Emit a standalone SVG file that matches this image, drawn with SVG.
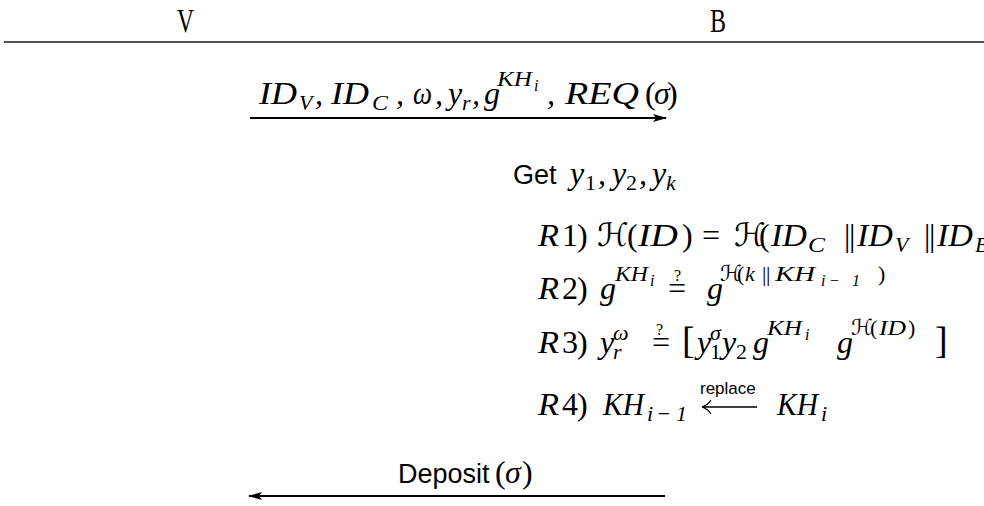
<svg xmlns="http://www.w3.org/2000/svg" width="984" height="506" viewBox="0 0 984 506">
<style>
.m{font-family:"Liberation Serif",serif;font-style:italic;font-size:32px;fill:#000}
.u{font-style:normal}
.s{font-size:22px}
.ss{font-size:16px}
.h{font-family:"DejaVu Sans","DejaVu Serif",serif;font-style:normal}
.q{font-family:"Liberation Serif",serif;font-size:16px;fill:#000}
.sf{font-family:"Liberation Sans","DejaVu Sans",sans-serif;font-size:27px;fill:#000}
.hd{font-family:"Liberation Serif",serif;font-size:33px;fill:#000}
.br{font-size:38px;font-style:normal}
.ln{stroke:#000;stroke-width:2;fill:none}
</style>
<defs>
<marker id="ah" viewBox="0 0 14 8" refX="13" refY="4" markerWidth="14" markerHeight="8" markerUnits="userSpaceOnUse" orient="auto">
<path d="M0,0 L14,4 L0,8 L3,4 Z" fill="#000"/>
</marker>
</defs>
<rect width="984" height="506" fill="#fff"/>
<g id="V"><text class="hd" x="177" y="32" textLength="17" lengthAdjust="spacingAndGlyphs">V</text></g>
<g id="B"><text class="hd" x="710" y="32" textLength="16" lengthAdjust="spacingAndGlyphs">B</text></g>
<line x1="4" y1="42" x2="984" y2="42" stroke="#555" stroke-width="2"/>
<g id="connectors">
<line class="ln" x1="250" y1="118" x2="666" y2="118" marker-end="url(#ah)"/>
<line class="ln" x1="665" y1="496" x2="249" y2="496" marker-end="url(#ah)"/>
</g>
<g id="msg1"><text class="m" y="104"><tspan x="259" textLength="38" lengthAdjust="spacingAndGlyphs">ID</tspan><tspan class="s" x="299" dy="6">V</tspan><tspan x="315" dy="-6">,</tspan><tspan x="331" textLength="38" lengthAdjust="spacingAndGlyphs">ID</tspan><tspan class="s" x="372" dy="6" textLength="16" lengthAdjust="spacingAndGlyphs">C</tspan><tspan x="396" dy="-6">,</tspan><tspan x="413" textLength="19" lengthAdjust="spacingAndGlyphs">ω</tspan><tspan x="435">,</tspan><tspan x="448">y</tspan><tspan class="s" x="462" dy="6">r</tspan><tspan x="472" dy="-6">,</tspan><tspan x="484">g</tspan><tspan class="s" x="497" dy="-18" textLength="35" lengthAdjust="spacingAndGlyphs">KH</tspan><tspan class="ss" x="534" dy="5">i</tspan><tspan x="547" dy="13">,</tspan><tspan x="565" textLength="74" lengthAdjust="spacingAndGlyphs">REQ</tspan><tspan class="u" x="645">(</tspan><tspan x="654">σ</tspan><tspan class="u" x="667">)</tspan></text></g>
<g id="computation">
<text class="sf" x="513" y="184">Get</text>
<text class="m" y="184"><tspan x="570">y</tspan><tspan class="s u" x="585" dy="6">1</tspan><tspan x="598" dy="-6">,</tspan><tspan x="612">y</tspan><tspan class="s u" x="626" dy="6">2</tspan><tspan x="639" dy="-6">,</tspan><tspan x="652">y</tspan><tspan class="s" x="666" dy="6">k</tspan></text>
<text class="m" y="246"><tspan x="538" textLength="21" lengthAdjust="spacingAndGlyphs">R</tspan><tspan class="u" x="562 577">1)</tspan><tspan x="597" class="h">ℋ</tspan><tspan x="627" class="u">(</tspan><tspan x="638" textLength="40" lengthAdjust="spacingAndGlyphs">ID</tspan><tspan x="682" class="u">)</tspan><tspan x="702" class="u">=</tspan><tspan x="734" class="h">ℋ</tspan><tspan x="759" class="u">(</tspan><tspan x="771" textLength="36" lengthAdjust="spacingAndGlyphs">ID</tspan><tspan class="s" x="808" dy="6" textLength="17" lengthAdjust="spacingAndGlyphs">C</tspan><tspan class="u" x="844 849" dy="-6">||</tspan><tspan x="857" textLength="36" lengthAdjust="spacingAndGlyphs">ID</tspan><tspan class="s" x="895" dy="6">V</tspan><tspan class="u" x="924 929" dy="-6">||</tspan><tspan x="937" textLength="36" lengthAdjust="spacingAndGlyphs">ID</tspan><tspan class="s" x="975" dy="6">B</tspan></text>
<text class="m" y="299"><tspan x="538" textLength="21" lengthAdjust="spacingAndGlyphs">R</tspan><tspan class="u" x="562 577">2)</tspan><tspan x="600">g</tspan><tspan class="s" x="615" dy="-18" textLength="33" lengthAdjust="spacingAndGlyphs">KH</tspan><tspan class="ss" x="650" dy="5">i</tspan><tspan class="u" x="668" dy="13">=</tspan><tspan x="707">g</tspan><tspan class="s h" x="720" dy="-18">ℋ</tspan><tspan class="s u" x="737">(</tspan><tspan class="s" x="745">k</tspan><tspan class="s u" x="762 766">||</tspan><tspan class="s" x="775" textLength="40" lengthAdjust="spacingAndGlyphs">KH</tspan><tspan class="ss" x="821 829 852" dy="5">i−1</tspan><tspan class="s u" x="878" dy="-5">)</tspan></text>
<text class="q" x="674" y="281">?</text>
<text class="m" y="353"><tspan x="538" textLength="21" lengthAdjust="spacingAndGlyphs">R</tspan><tspan class="u" x="562 577">3)</tspan><tspan x="600">y</tspan><tspan class="s" x="613" dy="6">r</tspan><tspan class="s" x="613" dy="-19">ω</tspan><tspan class="u" x="652" dy="13">=</tspan><tspan class="br" x="682">[</tspan><tspan x="697">y</tspan><tspan class="s u" x="710" dy="6">1</tspan><tspan class="s" x="710" dy="-19">σ</tspan><tspan x="722" dy="13">y</tspan><tspan class="s u" x="736" dy="6">2</tspan><tspan x="753" dy="-6">g</tspan><tspan class="s" x="767" dy="-18" textLength="35" lengthAdjust="spacingAndGlyphs">KH</tspan><tspan class="ss" x="805" dy="5">i</tspan><tspan x="837" dy="13">g</tspan><tspan class="s h" x="851" dy="-18">ℋ</tspan><tspan class="s u" x="870">(</tspan><tspan class="s" x="879" textLength="27" lengthAdjust="spacingAndGlyphs">ID</tspan><tspan class="s u" x="908">)</tspan><tspan class="br" x="935" dy="18">]</tspan></text>
<text class="q" x="656" y="335">?</text>
<text class="m" y="415"><tspan x="538" textLength="21" lengthAdjust="spacingAndGlyphs">R</tspan><tspan class="u" x="562 577">4)</tspan><tspan x="603" textLength="41" lengthAdjust="spacingAndGlyphs">KH</tspan><tspan class="s" x="647 656 676" dy="6">i−1</tspan><tspan x="777" dy="-6" textLength="41" lengthAdjust="spacingAndGlyphs">KH</tspan><tspan class="s" x="821" dy="6">i</tspan></text>
<text class="sf" x="700" y="394" style="font-size:17px">replace</text>
<path d="M702,407 H757 M702,407 q6,-2 9,-7 M702,407 q6,2 9,7" stroke="#000" stroke-width="1.3" fill="none"/>
</g>
<g id="msg2"><text class="sf" x="398" y="483">Deposit</text><text class="m" y="483"><tspan x="495" class="u">(</tspan><tspan x="505">σ</tspan><tspan x="522" class="u">)</tspan></text></g>
</svg>
